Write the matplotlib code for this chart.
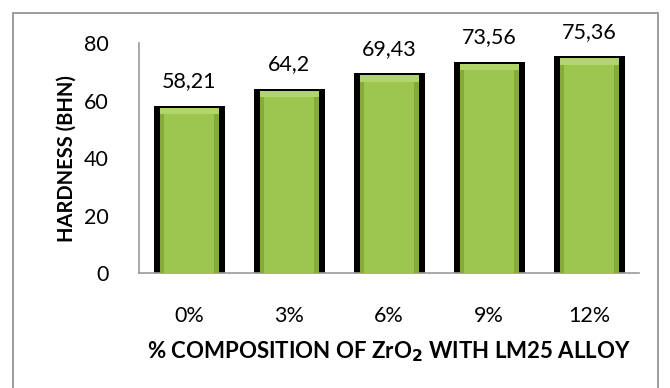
import matplotlib.pyplot as plt
from matplotlib.patches import Rectangle

# data
categories = ['0%', '3%', '6%', '9%', '12%']
hardness = [58.21, 64.2, 69.43, 73.56, 75.36]
value_labels = ['58,21', '64,2', '69,43', '73,56', '75,36']

plt.rcParams['font.family'] = ['Lato', 'DejaVu Sans']

fig = plt.figure(figsize=(6.7, 3.88), dpi=100)
ax = fig.add_axes([0.2075, 0.296, 0.7465, 0.593])

x = list(range(len(categories)))

# black shadow behind each bar, then the green bar with a bevel look
ax.bar(x, hardness, width=0.71, color='black', zorder=2)
ax.bar(x, [h - 0.7 for h in hardness], width=0.59, color='#b2d56a', zorder=3)
ax.bar(x, [h - 3.0 for h in hardness], width=0.59, color='#86ab3a', zorder=3.5)
ax.bar(x, [h - 3.0 for h in hardness], width=0.50, color='#9cc650', zorder=4)

for xi, h, lab in zip(x, hardness, value_labels):
    ax.text(xi, h + 5, lab, ha='center', va='bottom', fontsize=15.5, zorder=5)

ax.set_xlim(-0.5, 4.5)
ax.set_ylim(0, 80)
ax.set_yticks([0, 20, 40, 60, 80])
ax.set_xticks(x)
ax.set_xticklabels(categories)
ax.tick_params(axis='both', length=0, labelsize=15.5)
ax.tick_params(axis='x', pad=24)
ax.tick_params(axis='y', pad=22)

for s in ['top', 'right']:
    ax.spines[s].set_visible(False)
for s in ['left', 'bottom']:
    ax.spines[s].set_color('#9a9a9a')
    ax.spines[s].set_linewidth(1.2)

ax.set_ylabel('HARDNESS (BHN)', fontsize=14.5, fontweight='bold', labelpad=5)
ax.set_xlabel('% COMPOSITION OF ZrO$_\\mathbf{2}$ WITH LM25 ALLOY', fontsize=16,
              fontweight='bold', labelpad=9)

# outer chart frame
fig.patches.append(Rectangle((13 / 670, -0.05), 645 / 670, 1 - 13 / 388 + 0.05,
                             transform=fig.transFigure, fill=False,
                             edgecolor='#8c8c8c', linewidth=1.2))

fig.savefig('out.png', dpi=100)
